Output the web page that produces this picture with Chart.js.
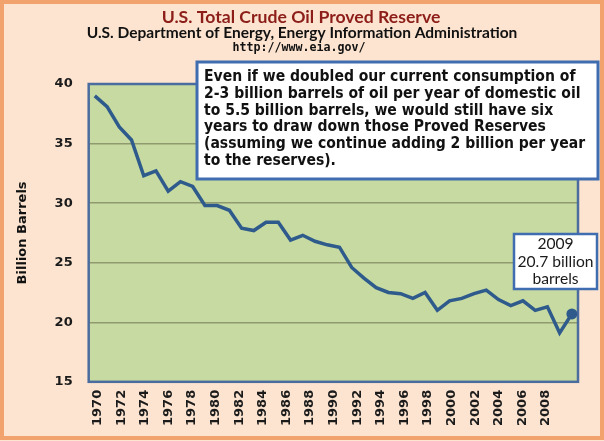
<!DOCTYPE html>
<html><head><meta charset="utf-8">
<script src="https://cdn.jsdelivr.net/npm/chart.js@4"></script>
<style>html,body{margin:0;padding:0;background:#FCE4D0;overflow:hidden}#wrap{position:relative;width:604px;height:441px}</style>
</head><body><div id="wrap"><canvas id="c" width="604" height="441"></canvas></div>
<script>
const years = [1970,1971,1972,1973,1974,1975,1976,1977,1978,1979,1980,1981,1982,1983,1984,1985,1986,1987,1988,1989,1990,1991,1992,1993,1994,1995,1996,1997,1998,1999,2000,2001,2002,2003,2004,2005,2006,2007,2008,2009];
const reserves = [39.0,38.1,36.4,35.3,32.3,32.7,31.0,31.8,31.4,29.8,29.8,29.4,27.9,27.7,28.4,28.4,26.9,27.3,26.8,26.5,26.3,24.6,23.7,22.9,22.5,22.4,22.0,22.5,21.0,21.8,22.0,22.4,22.7,21.9,21.4,21.8,21.0,21.3,19.1,20.7];
const yTickValues = [15,20,25,30,35,40];
const xTickYears = [1970,1972,1974,1976,1978,1980,1982,1984,1986,1988,1990,1992,1994,1996,1998,2000,2002,2004,2006,2008];
const titleText = "U.S. Total Crude Oil Proved Reserve";
const subtitleText = "U.S. Department of Energy, Energy Information Administration";
const urlText = "http://www.eia.gov/";
const yAxisTitle = "Billion Barrels";
const noteLines = [
  "Even if we doubled our current consumption of",
  "2-3 billion barrels of oil per year of domestic oil",
  "to 5.5 billion barrels, we would still have six",
  "years to draw down those Proved Reserves",
  "(assuming we continue adding 2 billion per year",
  "to the reserves)."
];
const calloutLines = ["2009", "20.7 billion", "barrels"];

function fitSize(ctx, text, weight, family, width) {
  ctx.font = weight + " 100px " + family;
  return 100 * width / ctx.measureText(text).width;
}
function centerText(ctx, text, x, y, weight, family, width, color) {
  const s = fitSize(ctx, text, weight, family, width);
  ctx.font = weight + " " + s.toFixed(2) + "px " + family;
  ctx.fillStyle = color;
  ctx.textAlign = "center";
  ctx.textBaseline = "middle";
  ctx.fillText(text, x, y);
}

const decor = {
  id: "decor",
  beforeDraw(chart) {
    const ctx = chart.ctx, a = chart.chartArea;
    ctx.save();
    ctx.fillStyle = "#FCE4D0";
    ctx.fillRect(0, 0, chart.width, chart.height);
    ctx.strokeStyle = "#F2A26C";
    ctx.lineWidth = 4;
    ctx.strokeRect(2, 2, chart.width - 4, chart.height - 5);
    ctx.fillStyle = "#C6DAA2";
    ctx.fillRect(a.left, a.top, a.right - a.left, a.bottom - a.top);
    ctx.restore();
  },
  beforeDatasetsDraw(chart) {
    const ctx = chart.ctx, a = chart.chartArea;
    ctx.save();
    ctx.strokeStyle = "#4A6C9E";
    ctx.lineWidth = 2.5;
    ctx.strokeRect(a.left, a.top, a.right - a.left, a.bottom - a.top);
    ctx.restore();
  },
  afterDraw(chart) {
    const ctx = chart.ctx;
    ctx.save();
    centerText(ctx, titleText, 301, 17, "bold", "Lato", 279, "#8C1D18");
    centerText(ctx, subtitleText, 302, 33.5, "bold", "Lato", 431, "#111111");
    centerText(ctx, urlText, 299, 47.5, "bold", "'DejaVu Sans Mono'", 133, "#111111");
    ctx.fillStyle = "#FFFFFF";
    ctx.fillRect(197, 62, 401, 117);
    ctx.strokeStyle = "#3F6DB0";
    ctx.lineWidth = 3;
    ctx.strokeRect(197, 62, 401, 117);
    const fam = "'DejaVu Sans Condensed', 'Noto Sans', sans-serif";
    const s = fitSize(ctx, noteLines[4], "bold", fam, 381);
    ctx.font = "bold " + s.toFixed(2) + "px " + fam;
    ctx.fillStyle = "#111111";
    ctx.textAlign = "left";
    ctx.textBaseline = "middle";
    noteLines.forEach((t, i) => ctx.fillText(t, 204, 77 + i * 16.8));
    ctx.fillStyle = "#FFFFFF";
    ctx.fillRect(514, 234, 83, 55);
    ctx.strokeStyle = "#3F6DB0";
    ctx.lineWidth = 2.5;
    ctx.strokeRect(514, 234, 83, 55);
    const cs = fitSize(ctx, calloutLines[1], "normal", "Lato", 76);
    ctx.font = "normal " + cs.toFixed(2) + "px Lato";
    ctx.fillStyle = "#1A1A1A";
    ctx.textAlign = "center";
    [244, 262, 279].forEach((y, i) => ctx.fillText(calloutLines[i], 555.5, y));
    ctx.restore();
  }
};

new Chart(document.getElementById("c"), {
  type: "line",
  data: {
    labels: years,
    datasets: [{
      data: reserves,
      xAxisID: "x",
      yAxisID: "y",
      borderColor: "#2E5A8C",
      borderWidth: 3.5,
      pointRadius: ctx => ctx.dataIndex === reserves.length - 1 ? 5.5 : 0,
      pointBackgroundColor: "#2E5A8C",
      pointBorderWidth: 0,
      tension: 0,
      clip: false
    }]
  },
  options: {
    responsive: false,
    animation: false,
    devicePixelRatio: 1,
    layout: { padding: { top: 84, left: 15, right: 26, bottom: 7 } },
    plugins: { legend: { display: false }, tooltip: { enabled: false } },
    scales: {
      x: { type: "category", offset: true, display: false },
      xl: {
        type: "linear", position: "bottom",
        min: 1969.24, max: 2010.71,
        afterBuildTicks: s => { s.ticks = xTickYears.map(v => ({ value: v })); },
        ticks: {
          minRotation: 90, maxRotation: 90, autoSkip: false,
          callback: v => String(v),
          font: { family: "DejaVu Sans", weight: "bold", size: 13 },
          color: "#1B1B1B", padding: 8
        },
        grid: { display: false, drawTicks: false },
        border: { display: false }
      },
      y: {
        min: 15, max: 40,
        afterBuildTicks: s => { s.ticks = yTickValues.map(v => ({ value: v })); },
        ticks: { font: { family: "DejaVu Sans", weight: "bold", size: 13 }, color: "#1B1B1B", padding: 16 },
        grid: {
          color: c => (c.tick && (c.tick.value === 15 || c.tick.value === 40)) ? "rgba(0,0,0,0)" : "#8F9A6E",
          lineWidth: 1.5, drawTicks: false
        },
        border: { display: false },
        title: { display: true, text: yAxisTitle, font: { family: "DejaVu Sans", weight: "bold", size: 13 }, color: "#111111", padding: { top: 0, bottom: 8 } }
      }
    }
  },
  plugins: [decor]
});
</script>
</body></html>
